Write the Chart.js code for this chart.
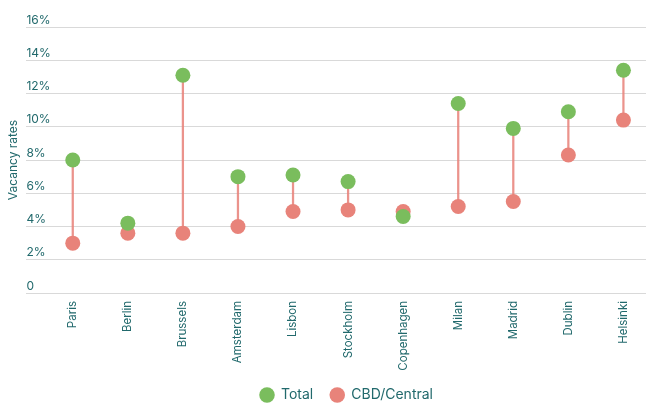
<!DOCTYPE html>
<html>
<head>
<meta charset="utf-8">
<script src="https://cdn.jsdelivr.net/npm/chart.js@4"></script>
<style>
  body { margin: 0; background: #fff; }
  #wrap { width: 646px; height: 403px; }
</style>
</head>
<body>
<div id="wrap"><canvas id="chart"></canvas></div>
<script>
// vacancy rates by city (%)
var cities = ['Paris', 'Berlin', 'Brussels', 'Amsterdam', 'Lisbon', 'Stockholm',
  'Copenhagen', 'Milan', 'Madrid', 'Dublin', 'Helsinki'];
var total = [8.0, 4.2, 13.1, 7.0, 7.1, 6.7, 4.6, 11.4, 9.9, 10.9, 13.4];
var cbd = [3.0, 3.6, 3.6, 4.0, 4.9, 5.0, 4.9, 5.2, 5.5, 8.3, 10.4];
var yTicks = [0, 2, 4, 6, 8, 10, 12, 14, 16];

var teal = '#21696c';
var green = '#7abd5d';
var red = '#e8837a';

var pts = function(arr) {
  return arr.map(function(v, i) { return { x: i, y: v }; });
};

var data = {
  datasets: [
    {
      label: 'Total',
      type: 'scatter',
      data: pts(total),
      backgroundColor: green,
      borderColor: green,
      pointRadius: 7.5,
      pointHoverRadius: 7.5,
      borderWidth: 0,
      order: 0
    },
    {
      label: 'CBD/Central',
      type: 'scatter',
      data: pts(cbd),
      backgroundColor: red,
      borderColor: red,
      pointRadius: 7.5,
      pointHoverRadius: 7.5,
      borderWidth: 0,
      order: 1
    },
    {
      label: 'range',
      type: 'bar',
      data: cities.map(function(c, i) { return { x: i, y: [cbd[i], total[i]] }; }),
      backgroundColor: 'rgba(232,128,120,0.85)',
      barThickness: 1.6,
      order: 2
    }
  ]
};

// nudge the legend a bit to the right, like the original
var legendShift = {
  id: 'legendShift',
  afterLayout: function(chart) {
    chart.legend.left += 47;
  }
};

var options = {
  responsive: true,
  maintainAspectRatio: false,
  animation: false,
  layout: { autoPadding: false, padding: { top: 27, right: 0, bottom: -9, left: 0 } },
  font: { family: 'Inter', size: 12 },
  scales: {
    x: {
      type: 'linear',
      min: -0.842,
      max: 10.41,
      offset: false,
      grid: { display: false, offset: false },
      border: { display: false },
      afterBuildTicks: function(s) {
        s.ticks = cities.map(function(c, i) { return { value: i }; });
      },
      afterFit: function(s) {
        s.height = 78;
      },
      ticks: {
        autoSkip: false,
        minRotation: 90,
        maxRotation: 90,
        padding: 0,
        color: teal,
        font: { family: 'Inter', size: 11.5 },
        callback: function(v) { return cities[v]; }
      }
    },
    y: {
      min: 0,
      max: 16,
      afterBuildTicks: function(s) {
        s.ticks = yTicks.map(function(v) { return { value: v }; });
      },
      grid: { color: '#d9d9d9', lineWidth: 1, drawTicks: false },
      border: { display: false },
      title: {
        display: true,
        text: 'Vacancy rates',
        color: teal,
        padding: { top: 6, bottom: 6 },
        font: { family: 'Inter', size: 12 }
      },
      ticks: {
        mirror: true,
        padding: 0,
        labelOffset: -7,
        color: teal,
        font: { family: 'Inter', size: 12 },
        callback: function(v) { return v === 0 ? '0' : v + '%'; }
      }
    }
  },
  plugins: {
    tooltip: { enabled: false },
    legend: {
      position: 'bottom',
      labels: {
        usePointStyle: true,
        pointStyle: 'circle',
        boxHeight: 11,
        padding: 17,
        color: teal,
        font: { family: 'Inter', size: 14 },
        filter: function(item) { return item.text !== 'range'; }
      }
    }
  }
};

new Chart('chart', {
  type: 'scatter',
  data: data,
  options: options,
  plugins: [legendShift]
});
</script>
</body>
</html>
